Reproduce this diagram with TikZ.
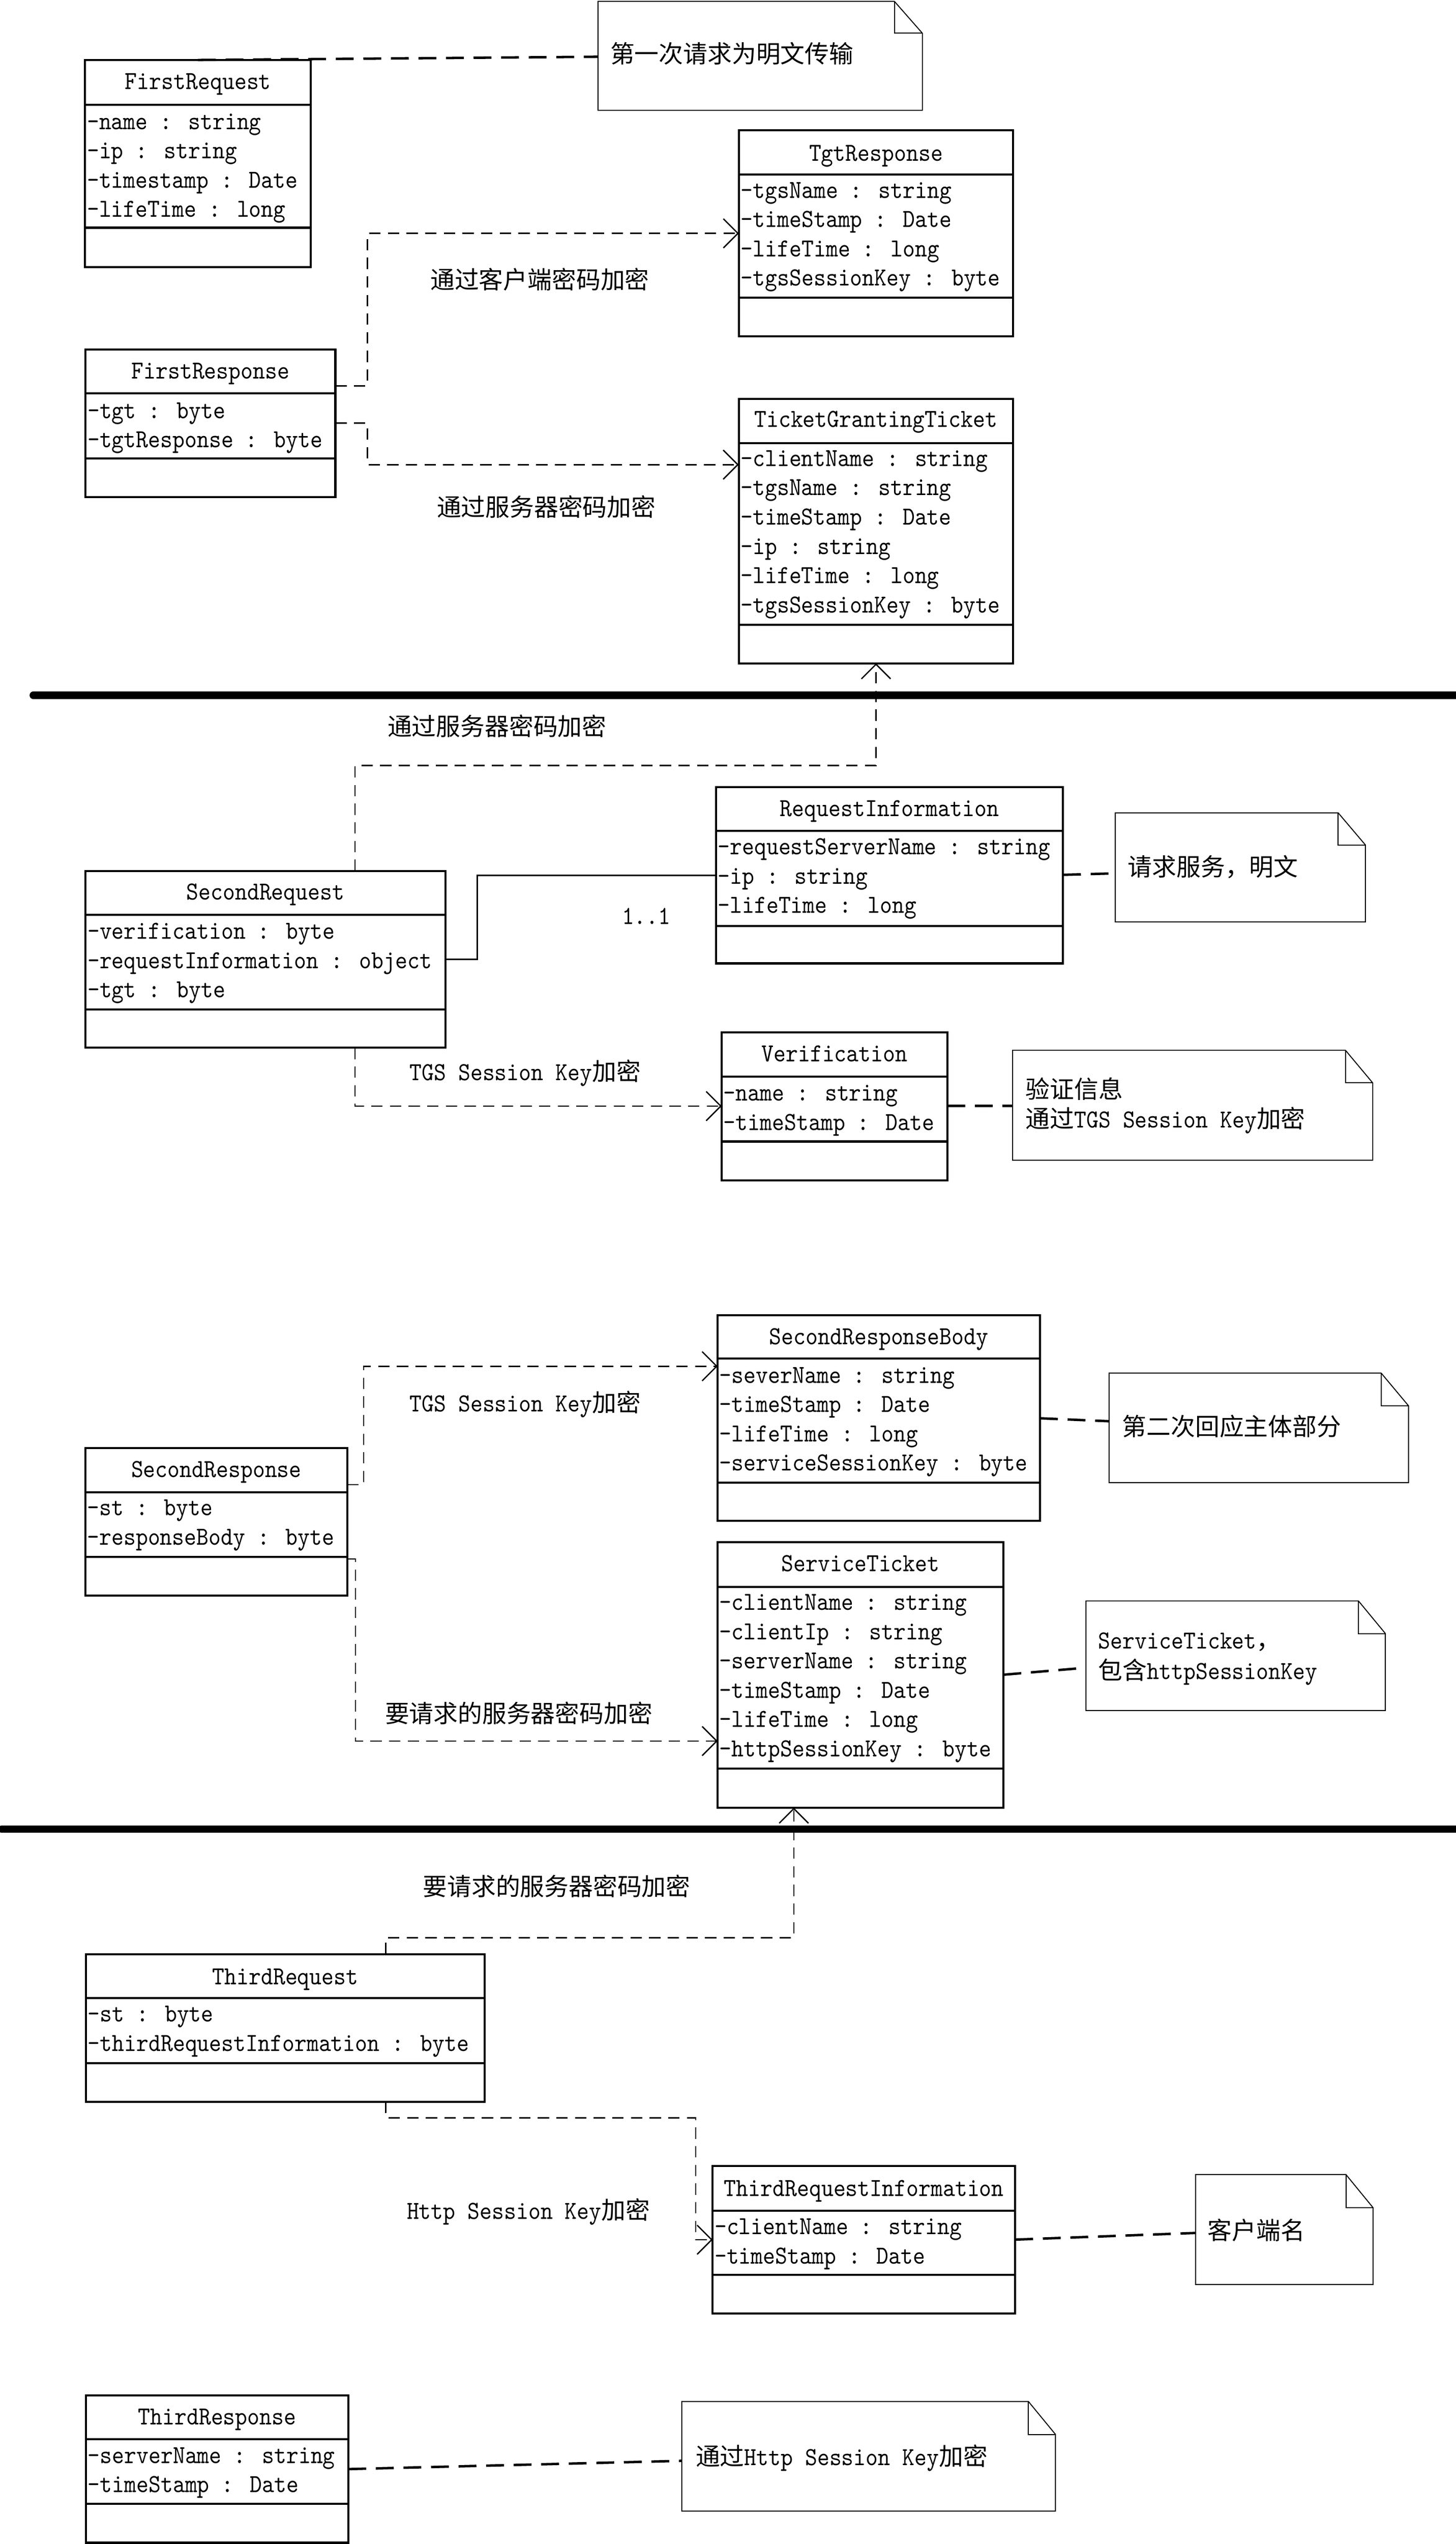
\documentclass[tikz,border=0pt]{standalone}
\usepackage{fontspec}
\newfontfamily\umltt[FakeStretch=0.893]{lmmono10-regular.otf}
\newfontfamily\cjk{Noto Sans CJK SC}
\usetikzlibrary{arrows.meta,fit}
\newcommand{\zh}[1]{{\cjk\fontsize{15}{18}\selectfont #1}}
\newcommand{\umlbox}[7]{%
  \node[umlframe, fit={(#2,#3) (#4,#7)}] (#1) {};
  \draw[sepline] (#2,#5) -- (#4,#5) (#2,#6) -- (#4,#6);
}
\newcommand{\umltext}[5]{%
  \pgfmathsetmacro\ttly{#3+4.5}
  \node[titletext] (#1-title) at (#1.north |- 0,\ttly) {#2};
  \foreach \myattr [count=\i] in {#5} {
    \pgfmathsetmacro\rowy{#4+3.5+(\i-1)*18.05}
    \node[attrtext] (#1-a\i) at (#1.west |- 0,\rowy) {\myattr};
  }
}
\newcommand{\umlnote}[7]{%
  \draw[notebody] (#2,#3) -- (#6,#3) -- (#4,#7) -- (#4,#5) -- (#2,#5) -- cycle;
  \draw[line width=0.6pt] (#6,#3) -- (#6,#7) -- (#4,#7);
  \node[fit={(#2,#3) (#4,#5)}] (#1) {};
}
\begin{document}
\begin{tikzpicture}[x=1pt,y=-1pt,
  every node/.style={inner sep=0pt, outer sep=0pt, font=\umltt\fontsize{16}{18}\selectfont},
  umlframe/.style={draw, line width=1.3pt, inner sep=0pt},
  sepline/.style={line width=1.3pt},
  titletext/.style={anchor=base},
  attrtext/.style={anchor=base west, xshift=1.2pt},
  notetext/.style={anchor=base west},
  notebody/.style={draw, line width=0.6pt, fill=white},
  notecon/.style={line width=1.5pt, dash pattern=on 11pt off 6pt},
  dep/.style={line width=0.8pt, dash pattern=on 7pt off 4.5pt, -{Straight Barb[length=9pt,width=18pt,line width=0.8pt]}},
  assoc/.style={line width=1pt},
  divider/.style={line width=4.5pt, line cap=round},
  lbl/.style={anchor=base},
]
\useasboundingbox (0,0) rectangle (898,1568.6);
\fill[white] (0,0) rectangle (898,1568.6);

% dividers
\draw[divider] (20.5,428.7) -- (900,428.7);
\draw[divider] (1,1127.8) -- (900,1127.8);

% class boxes
\umlbox{FReq}{52.5}{37}{191.8}{64.5}{140.4}{164.7}
\umltext{FReq}{FirstRequest}{50.6}{76.3}{-name : string,-ip : string,-timestamp : Date,-lifeTime : long}

\umlbox{TgtR}{455.8}{80.4}{625}{107.6}{183.5}{207.5}
\umltext{TgtR}{TgtResponse}{94.7}{118.6}{-tgsName : string,-timeStamp : Date,-lifeTime : long,-tgsSessionKey : byte}

\umlbox{FRes}{52.8}{215.5}{206.9}{242.5}{282.6}{306.4}
\umltext{FRes}{FirstResponse}{229.2}{254.4}{-tgt : byte,-tgtResponse : byte}

\umlbox{TGT}{455.7}{246}{625}{273.2}{385.3}{409}
\umltext{TGT}{TicketGrantingTicket}{258.9}{284}{-clientName : string,-tgsName : string,-timeStamp : Date,-ip : string,-lifeTime : long,-tgsSessionKey : byte}

\umlbox{SReq}{52.8}{537}{274.7}{564}{622.3}{646}
\umltext{SReq}{SecondRequest}{550.3}{575.5}{-verification : byte,-requestInformation : object,-tgt : byte}

\umlbox{RInfo}{441.6}{485.4}{655.8}{512.4}{570.9}{594}
\umltext{RInfo}{RequestInformation}{498.9}{523.5}{-requestServerName : string,-ip : string,-lifeTime : long}

\umlbox{Verif}{445.2}{636.6}{584.4}{663.8}{703.8}{727.8}
\umltext{Verif}{Verification}{650}{675.3}{-name : string,-timeStamp : Date}

\umlbox{SRB}{442.7}{811}{641.6}{837.6}{914.3}{937.6}
\umltext{SRB}{SecondResponseBody}{824.6}{849.3}{-severName : string,-timeStamp : Date,-lifeTime : long,-serviceSessionKey : byte}

\umlbox{SRes}{52.6}{892.9}{214.3}{920.1}{960.1}{983.9}
\umltext{SRes}{SecondResponse}{906.5}{930.9}{-st : byte,-responseBody : byte}

\umlbox{STk}{442.7}{951}{619}{978.5}{1090.6}{1114.6}
\umltext{STk}{ServiceTicket}{964.4}{989.3}{-clientName : string,-clientIp : string,-serverName : string,-timeStamp : Date,-lifeTime : long,-httpSessionKey : byte}

\umlbox{TReq}{53}{1204.9}{299}{1232}{1272.1}{1296}
\umltext{TReq}{ThirdRequest}{1219}{1243.2}{-st : byte,-thirdRequestInformation : byte}

\umlbox{TRI}{439.6}{1335.5}{626.3}{1363.1}{1402.6}{1426.4}
\umltext{TRI}{ThirdRequestInformation}{1349.5}{1374.3}{-clientName : string,-timeStamp : Date}

\umlbox{TRes}{53}{1476.9}{214.9}{1503.9}{1543.8}{1567.8}
\umltext{TRes}{ThirdResponse}{1490.6}{1515.3}{-serverName : string,-timeStamp : Date}

% notes
\umlnote{N1}{368.9}{0.8}{569}{68}{551.7}{20.5}
\node[notetext] (N1-t) at (376.5,38.7) {\zh{第一次请求为明文传输}};
\umlnote{N2}{688}{501.2}{842.3}{568.4}{825.5}{521}
\node[notetext] (N2-t) at (695.8,540.2) {\zh{请求服务，明文}};
\umlnote{N3}{624.6}{647.6}{846.8}{715.4}{830}{667.7}
\node[notetext] (N3-t1) at (632.7,677.3) {\zh{验证信息}};
\node[notetext] (N3-t2) at (632.7,695.3) {\zh{通过}TGS Session Key\zh{加密}};
\umlnote{N4}{684.2}{846.6}{868.9}{914.2}{852}{866.8}
\node[notetext] (N4-t) at (692.3,885.3) {\zh{第二次回应主体部分}};
\umlnote{N5}{669.9}{987.1}{854.6}{1054.7}{838}{1007.2}
\node[notetext] (N5-t1) at (677.6,1016.5) {ServiceTicket\zh{，}};
\node[notetext] (N5-t2) at (677.6,1035.5) {\zh{包含}httpSessionKey};
\umlnote{N6}{737.5}{1340.8}{847}{1408.6}{830.3}{1361.2}
\node[notetext] (N6-t) at (745,1380.8) {\zh{客户端名}};
\umlnote{N7}{420.6}{1480.7}{651.1}{1548.3}{634.4}{1501}
\node[notetext] (N7-t) at (429.2,1520) {\zh{通过}Http Session Key\zh{加密}};

% note connectors
\draw[notecon] (FReq.north) -- (N1.west |- 0,35);
\draw[notecon] (RInfo.east |- 0,539.4) -- (N2.west |- 0,538.5);
\draw[notecon] (Verif.east |- 0,681.9) -- (N3.west |- 0,681.9);
\draw[notecon] (SRB.east |- 0,874.5) -- (N4.west |- 0,876.3);
\draw[notecon] (STk.east |- 0,1032.6) -- (N5.west |- 0,1028.3);
\draw[notecon] (TRI.east |- 0,1380.9) -- (N6.west |- 0,1376.8);
\draw[notecon] (TRes.east |- 0,1522.4) -- (N7.west |- 0,1517.3);

% dependencies
\draw[dep] (FRes.east |- 0,238) -- (226.7,238) -- (226.7,143.9) -- (TgtR.west |- 0,143.9);
\draw[dep] (FRes.east |- 0,260.9) -- (226.7,260.9) -- (226.7,286.5) -- (TGT.west |- 0,286.5);
\draw[dep] (219,0 |- SReq.north) -- (219,472) -- (540.4,472) -- (540.4,0 |- TGT.south);
\draw[dep] (219,0 |- SReq.south) -- (219,682) -- (Verif.west |- 0,682);
\draw[dep] (SRes.east |- 0,915.4) -- (224.3,915.4) -- (224.3,842.4) -- (SRB.west |- 0,842.4);
\draw[dep] (SRes.east |- 0,961.2) -- (219.3,961.2) -- (219.3,1073.5) -- (STk.west |- 0,1073.5);
\draw[dep] (238,0 |- TReq.north) -- (238,1194.8) -- (489.7,1194.8) -- (489.7,0 |- STk.south);
\draw[dep] (238,0 |- TReq.south) -- (238,1305.8) -- (429.2,1305.8) -- (429.2,1381) -- (TRI.west |- 0,1381);

% association
\draw[assoc] (SReq.east |- 0,591.5) -- (294.4,591.5) -- (294.4,539.8) -- (RInfo.west |- 0,539.8);
\node[lbl] (mult) at (398.7,570) {1..1};

% connector labels
\node[lbl] (L1) at (333,178.1) {\zh{通过客户端密码加密}};
\node[lbl] (L2) at (337,318.4) {\zh{通过服务器密码加密}};
\node[lbl] (L3) at (306.6,453.6) {\zh{通过服务器密码加密}};
\node[lbl] (L4) at (324,666.1) {TGS Session Key\zh{加密}};
\node[lbl] (L5) at (324,870.5) {TGS Session Key\zh{加密}};
\node[lbl] (L6) at (320,1062) {\zh{要请求的服务器密码加密}};
\node[lbl] (L7) at (343.4,1168.6) {\zh{要请求的服务器密码加密}};
\node[lbl] (L8) at (326,1368.3) {Http Session Key\zh{加密}};
\end{tikzpicture}
\end{document}
